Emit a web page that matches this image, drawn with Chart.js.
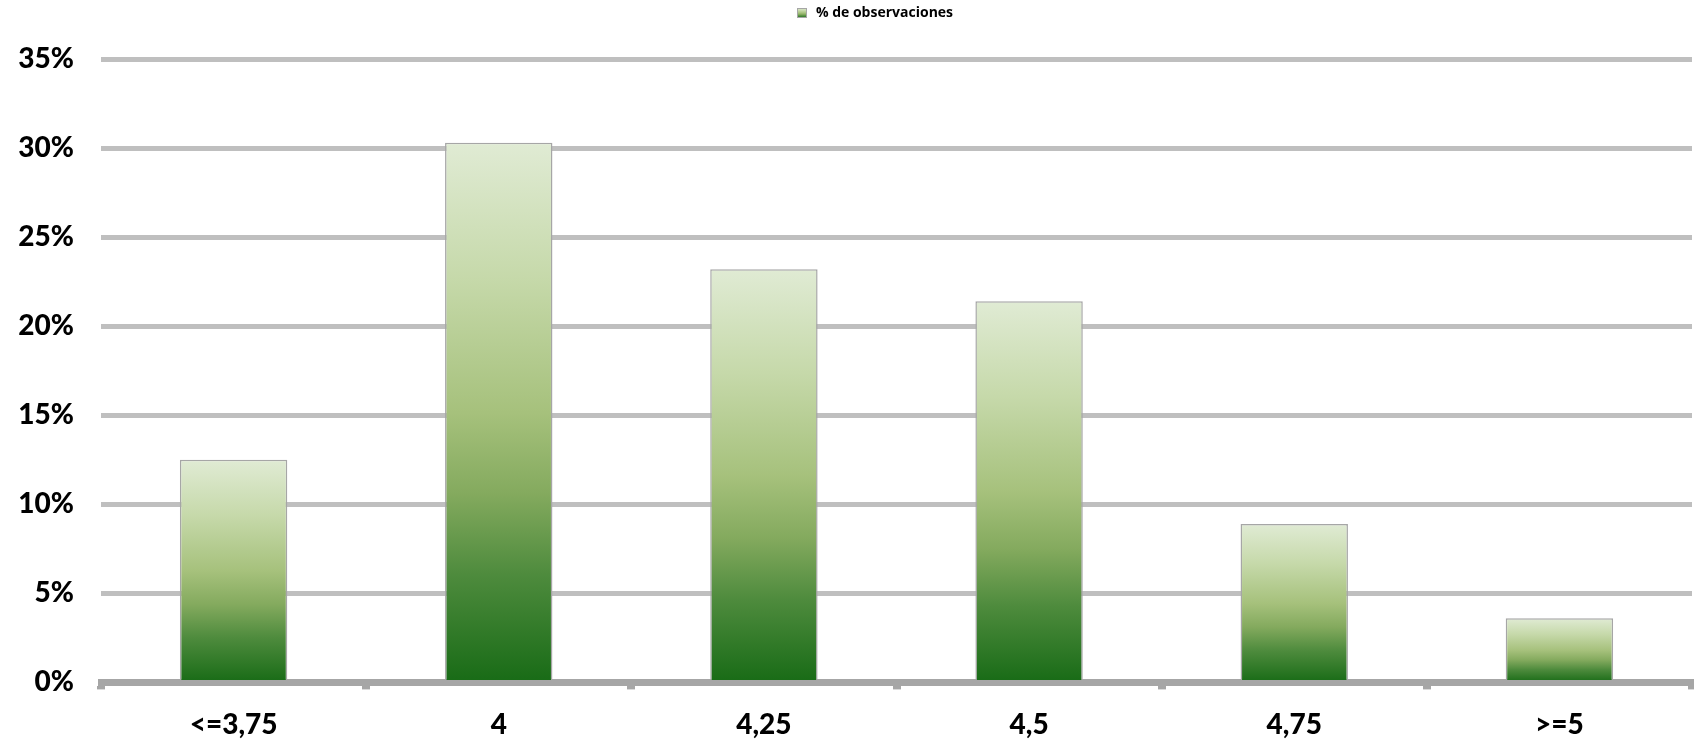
<!DOCTYPE html>
<html>
<head>
<meta charset="utf-8">
<script src="https://cdn.jsdelivr.net/npm/chart.js@4"></script>
<style>
  html, body { margin: 0; padding: 0; background: #fff; }
  #wrap { width: 1694px; height: 743px; }
</style>
</head>
<body>
<div id="wrap"><canvas id="myChart"></canvas></div>
<script>
const categories = ['<=3,75', '4', '4,25', '4,5', '4,75', '>=5'];
const observaciones = [12.5, 30.3, 23.2, 21.4, 8.9, 3.6];
const seriesLabel = '% de observaciones';
const yTicks = [0, 5, 10, 15, 20, 25, 30, 35];

// Excel-like vertical green gradient, light at the top of each bar
function barGradient(c, top, bottom) {
    const g = c.createLinearGradient(0, top, 0, bottom);
    g.addColorStop(0, '#e0ebd4');
    g.addColorStop(0.25, '#c6d9aa');
    g.addColorStop(0.5, '#a6c17c');
    g.addColorStop(0.65, '#84aa5e');
    g.addColorStop(0.8, '#4e8b3d');
    g.addColorStop(1, '#186b16');
    return g;
}

// small legend swatch with the same gradient
const swatch = document.createElement('canvas');
swatch.width = 10;
swatch.height = 10;
(function() {
    const s = swatch.getContext('2d');
    s.fillStyle = barGradient(s, 0, 10);
    s.fillRect(0, 0, 10, 10);
    s.strokeStyle = '#a6a6a6';
    s.lineWidth = 1;
    s.strokeRect(0.5, 0.5, 9, 9);
})();

// the legend sits a little right of centre in the original
const legendShift = {
    id: 'legendShift',
    afterLayout(chart) {
        if (!chart.legend) return;
        chart.legend.left += 19;
        chart.legend.right += 19;
    }
};

const ctx = document.getElementById('myChart');
const PLOT = new Chart(ctx, {
    type: 'bar',
    data: {
        labels: categories,
        datasets: [{
            label: seriesLabel,
            data: observaciones,
            backgroundColor: function(context) {
                const chart = context.chart;
                if (!chart.chartArea) return '#a6c17c';
                const y = chart.scales.y;
                const top = y.getPixelForValue(context.raw);
                const bottom = y.getPixelForValue(0);
                if (!isFinite(top) || top === bottom) return '#a6c17c';
                return barGradient(chart.ctx, top, bottom);
            },
            borderColor: '#a6a6a6',
            borderWidth: 1.5,
            borderSkipped: 'bottom',
            categoryPercentage: 1,
            barPercentage: 0.405,
            pointStyle: swatch
        }]
    },
    plugins: [legendShift],
    options: {
        responsive: true,
        maintainAspectRatio: false,
        animation: false,
        layout: { padding: { left: 18, right: 2, top: 4, bottom: -18 } },
        plugins: {
            legend: {
                position: 'top',
                weight: 3000,
                labels: {
                    font: { family: 'Open Sans', weight: 'bold', size: 14 },
                    color: '#000',
                    usePointStyle: true,
                    padding: 2
                }
            },
            // empty subtitle used as spacing between legend and plot
            subtitle: {
                display: true,
                text: '',
                font: { size: 10 },
                padding: { top: 0, bottom: 17 }
            },
            tooltip: { enabled: false }
        },
        scales: {
            x: {
                offset: true,
                grid: {
                    display: true,
                    offset: true,
                    drawOnChartArea: false,
                    drawTicks: true,
                    tickLength: 7,
                    lineWidth: 8,
                    color: '#a6a6a6'
                },
                border: { display: true, color: '#a6a6a6', width: 7 },
                ticks: {
                    color: '#000',
                    padding: 19,
                    font: { family: 'Lato', weight: 900, size: 28 }
                }
            },
            y: {
                beginAtZero: true,
                min: yTicks[0],
                max: yTicks[yTicks.length - 1],
                afterBuildTicks: function(axis) {
                    axis.ticks = yTicks.map(function(v) { return { value: v }; });
                },
                afterFit: function(axis) { axis.width = 83; },
                ticks: {
                    color: '#000',
                    padding: 27,
                    font: { family: 'Lato', weight: 900, size: 28 },
                    callback: function(v) { return v + '%'; }
                },
                grid: {
                    color: '#bfbfbf',
                    lineWidth: 5,
                    drawTicks: false
                },
                border: { display: false }
            }
        }
    }
});
</script>
</body>
</html>
